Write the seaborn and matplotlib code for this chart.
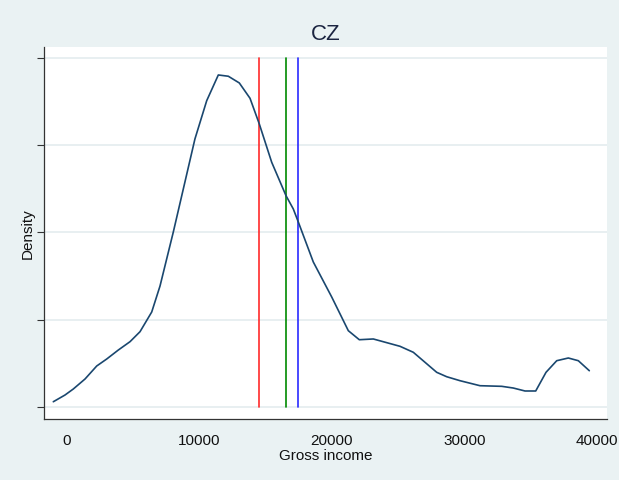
import numpy as np
import pandas as pd
import matplotlib
matplotlib.use("Agg")
import matplotlib.pyplot as plt
import seaborn as sns

# Kernel density estimate of gross income (evaluation points and density)
income = [-988, -106, 520, 1403, 2285, 3039, 3914, 4796, 5550, 6432, 7058,
          8061, 9690, 10579, 11454, 12208, 13037, 13844, 14545, 15480, 16559,
          17109, 17486, 18617, 20005, 21257, 22086, 23142, 25155, 26158,
          27922, 28676, 29679, 31188, 32824, 33699, 34581, 35388, 36165,
          36972, 37847, 38601, 39430]
density_e5 = [0.121, 0.275, 0.413, 0.642, 0.940, 1.100, 1.306, 1.497, 1.726,
              2.177, 2.773, 4.011, 6.142, 7.020, 7.609, 7.580, 7.426, 7.075,
              6.486, 5.608, 4.843, 4.538, 4.240, 3.323, 2.521, 1.749, 1.542,
              1.559, 1.391, 1.254, 0.795, 0.694, 0.603, 0.488, 0.474, 0.435,
              0.367, 0.367, 0.795, 1.061, 1.123, 1.061, 0.832]
density = [v * 1e-5 for v in density_e5]

# Reference lines (e.g. median, mean, other statistic)
ref_values = [14545, 16583, 17440]
ref_colors = ["#FF2A2A", "#008A00", "#2A2AFF"]
ref_top = 8e-5

x_ticks = [0, 10000, 20000, 30000, 40000]
x_tick_labels = ["0", "10000", "20000", "30000", "40000"]
y_ticks = [0, 2e-5, 4e-5, 6e-5, 8e-5]

title = "CZ"
x_label = "Gross income"
y_label = "Density"

sns.set_style("white")
plt.rcParams["font.family"] = ["Liberation Sans", "DejaVu Sans"]

bg = "#EAF2F3"
fig = plt.figure(figsize=(6.19, 4.81), dpi=100, facecolor=bg)
ax = fig.add_axes([0.0703, 0.1268, 0.9103, 0.7734])
ax.set_facecolor("white")

# horizontal grid
for yt in y_ticks:
    ax.axhline(yt, color="#E6EEF0", lw=1.3, zorder=0)

df = pd.DataFrame({"income": income, "density": density})
sns.lineplot(data=df, x="income", y="density", color="#1A476F", lw=1.2,
             ax=ax, sort=False, estimator=None, zorder=3)

for xv, c in zip(ref_values, ref_colors):
    ref_df = pd.DataFrame({"income": [xv, xv], "density": [0, ref_top]})
    sns.lineplot(data=ref_df, x="income", y="density", color=c, lw=1.2,
                 ax=ax, sort=False, estimator=None, zorder=2)

ax.set_xlim(-1727, 40763)
ax.set_ylim(-0.275e-5, 8.25e-5)
ax.set_xticks(x_ticks)
ax.set_xticklabels(x_tick_labels)
ax.set_yticks(y_ticks)
ax.set_yticklabels([])

for side in ["top", "right"]:
    ax.spines[side].set_visible(False)
for side in ["left", "bottom"]:
    ax.spines[side].set_color("#333333")
    ax.spines[side].set_linewidth(0.9)

ax.tick_params(axis="x", direction="out", length=4, width=0.8, color="#333333",
               labelsize=11, pad=6, labelcolor="#111111")
ax.tick_params(axis="y", direction="out", length=5, width=0.8, color="#333333",
               left=True)

ax.set_xlabel(x_label, fontsize=11, color="#111111", labelpad=1)
ax.set_ylabel(y_label, fontsize=11, color="#111111")
ax.yaxis.set_label_coords(-0.015, 0.5)
ax.set_title(title, fontsize=16, color="#1C2541", pad=6)

fig.savefig("out.png", dpi=100, facecolor=bg)
